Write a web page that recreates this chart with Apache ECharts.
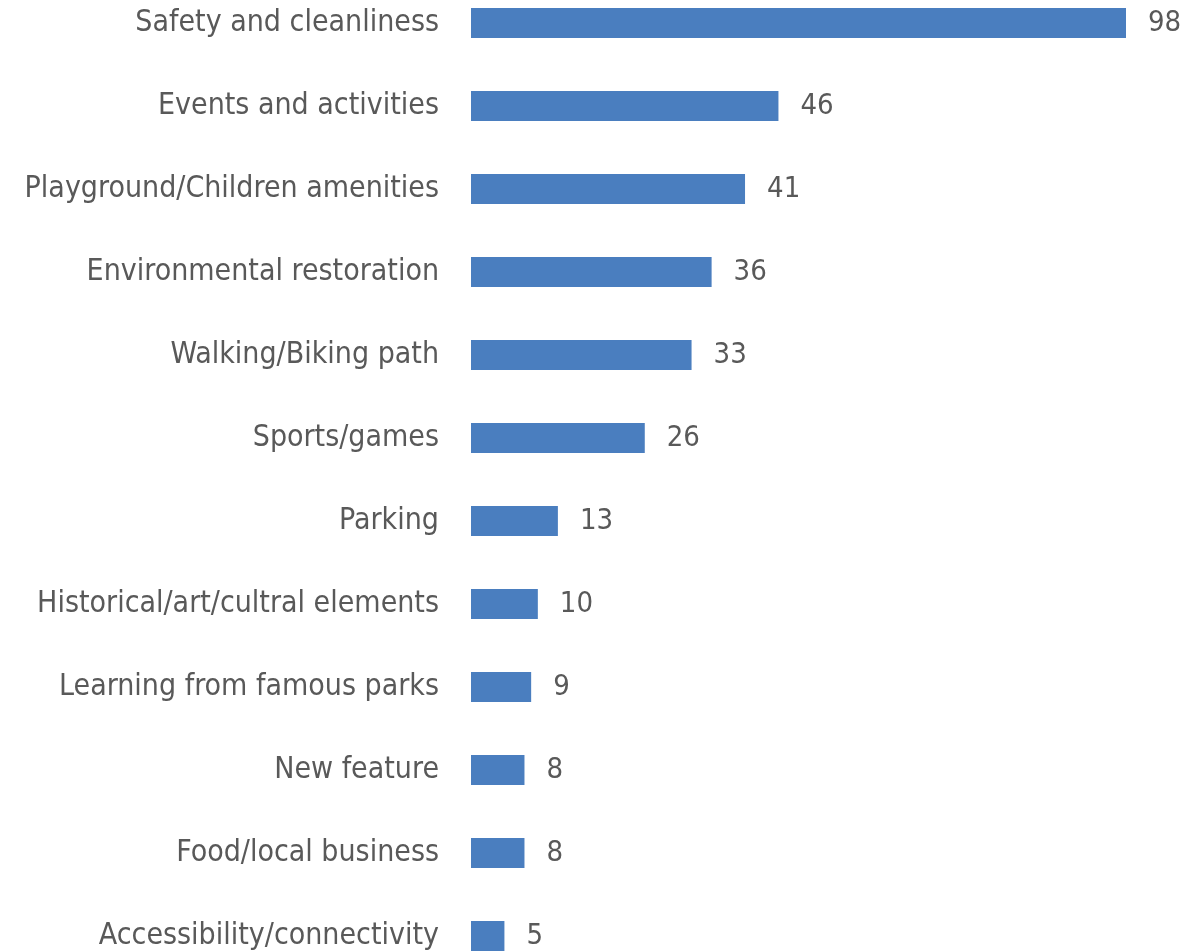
<!DOCTYPE html>
<html>
<head>
<meta charset="utf-8">
<script src="https://cdn.jsdelivr.net/npm/echarts@6/dist/echarts.min.js"></script>
<style>
html,body{margin:0;padding:0;background:#fff;}
#chart{width:1186px;height:951px;}
</style>
</head>
<body>
<div id="chart"></div>
<script>
const categories = [
  "Safety and cleanliness",
  "Events and activities",
  "Playground/Children amenities",
  "Environmental restoration",
  "Walking/Biking path",
  "Sports/games",
  "Parking",
  "Historical/art/cultral elements",
  "Learning from famous parks",
  "New feature",
  "Food/local business",
  "Accessibility/connectivity"
];
const values = [98, 46, 41, 36, 33, 26, 13, 10, 9, 8, 8, 5];

const FONT = '"Liberation Sans Narrow", "DejaVu Sans Condensed", sans-serif';
const chart = echarts.init(document.getElementById('chart'));
chart.setOption({
  animation: false,
  grid: { left: 471, right: 60, top: -18.5, height: 996, outerBoundsMode: 'none', containLabel: false },
  xAxis: { type: 'value', min: 0, max: 98, show: false },
  yAxis: {
    type: 'category', inverse: true, data: categories,
    axisLine: { show: false }, axisTick: { show: false },
    axisLabel: { color: '#595959', fontSize: 30, fontFamily: FONT, margin: 32 }
  },
  series: [{
    type: 'bar', data: values, barWidth: 30,
    itemStyle: { color: '#4a7ebf' },
    label: { show: true, position: 'right', distance: 22, color: '#595959', fontSize: 29, fontFamily: FONT }
  }]
});
</script>
</body>
</html>
